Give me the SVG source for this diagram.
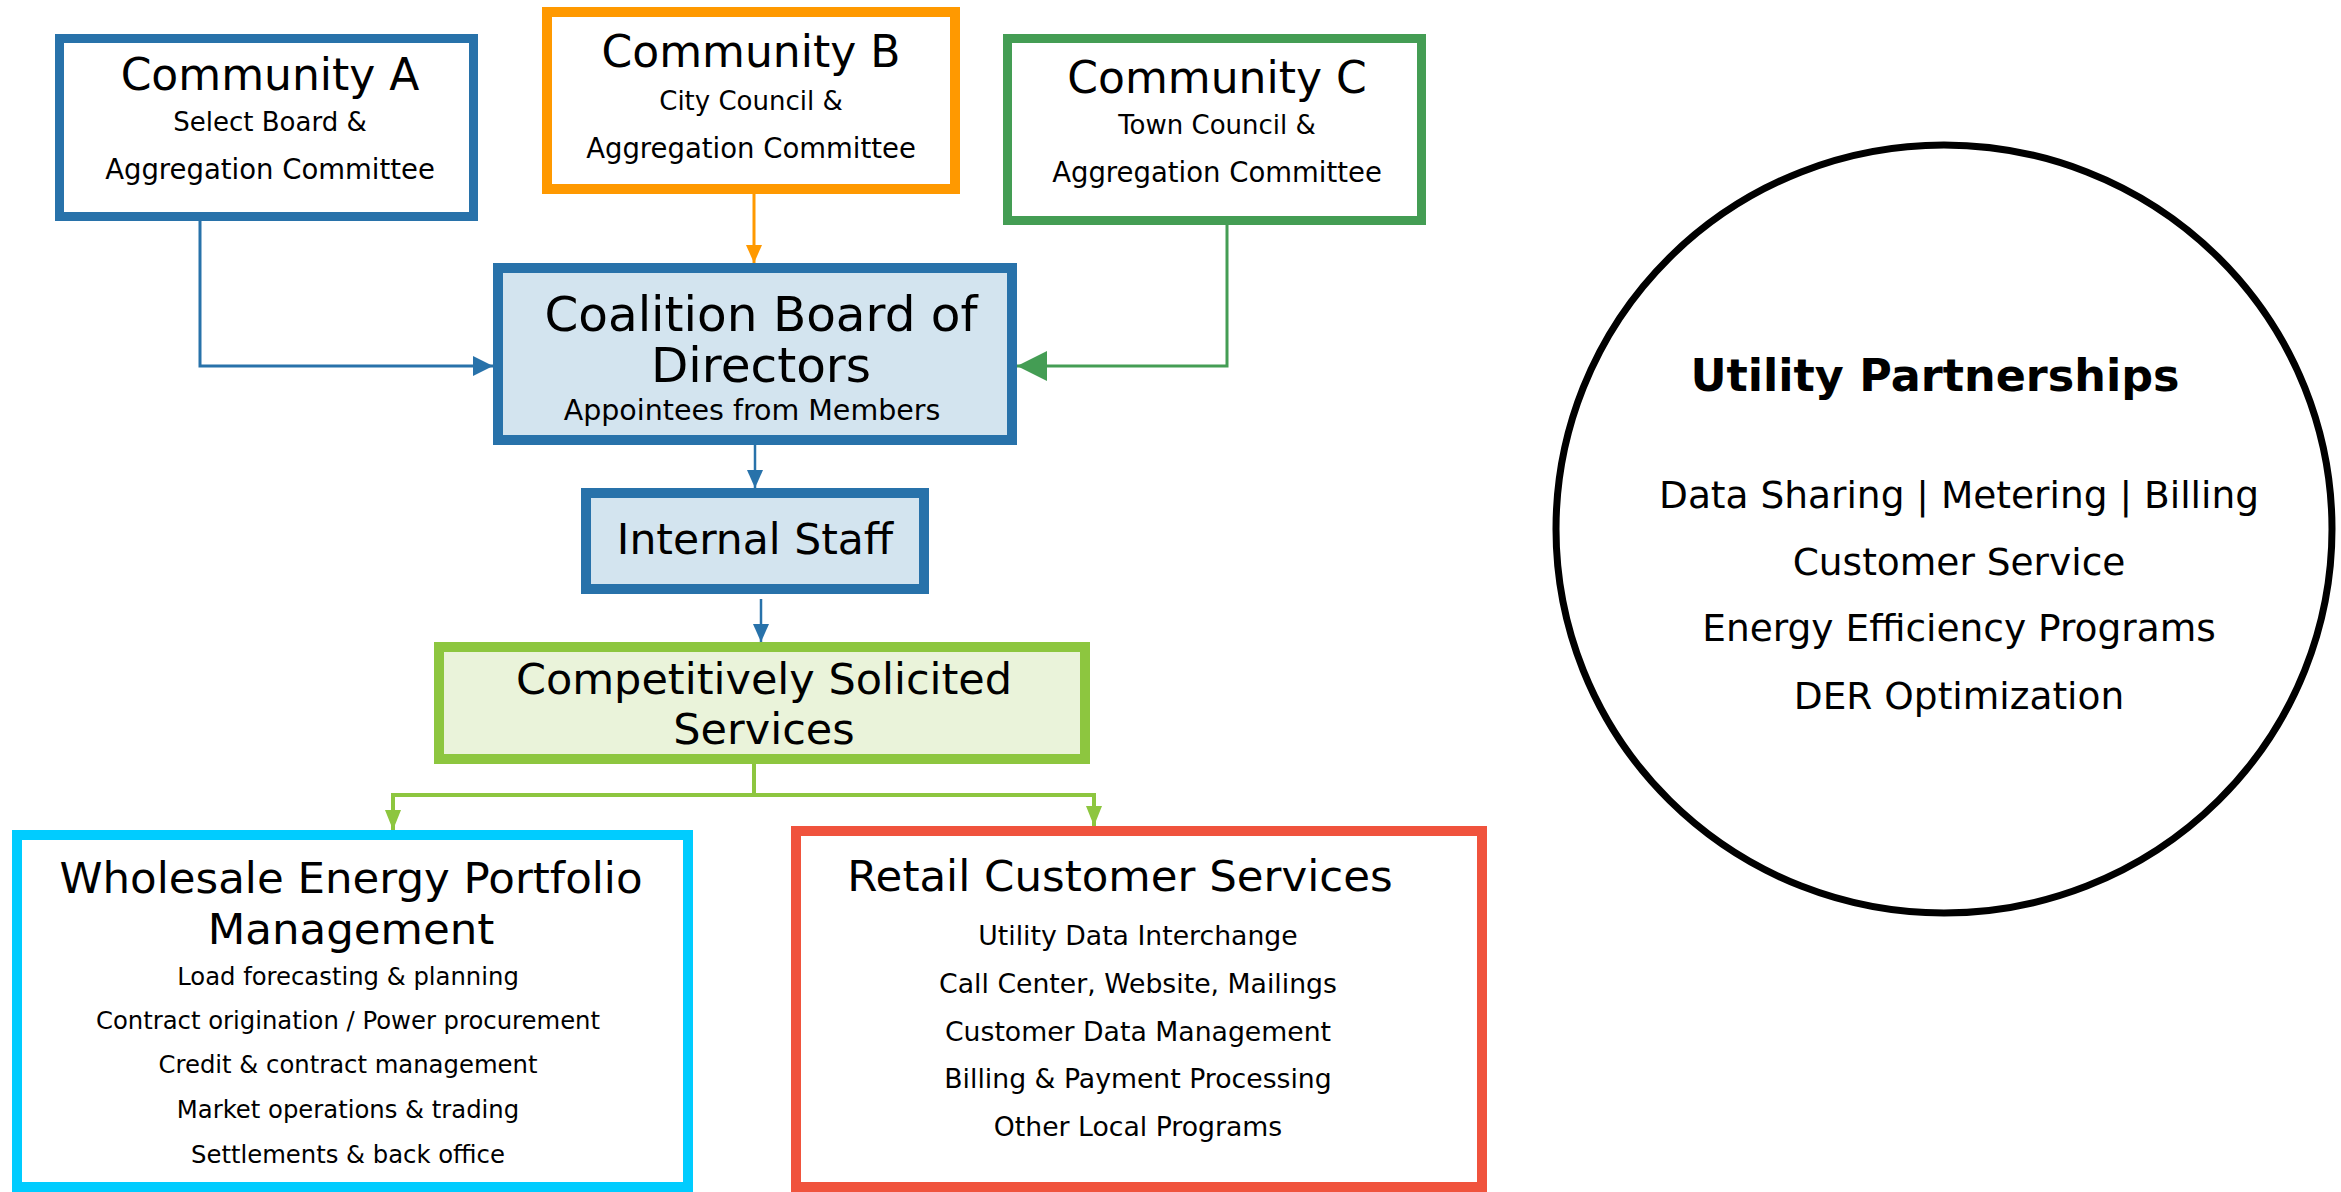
<svg xmlns="http://www.w3.org/2000/svg" width="2341" height="1192" viewBox="0 0 2341 1192">
<defs>
<style>
text{font-family:"DejaVu Sans","Open Sans",sans-serif;fill:#000;text-anchor:middle}
.h{font-size:44px}
.s{font-size:26px}
.ag{font-size:27.5px}
.l{font-size:24.3px}
.r{font-size:26.7px}
.u{font-size:37.5px}
.box{fill:#fff}
</style>
<marker id="aBlue" markerUnits="userSpaceOnUse" markerWidth="20" markerHeight="20" refX="20" refY="10" orient="auto"><path d="M0,0 L20,10 L0,20 Z" fill="#2872AA"/></marker>
<marker id="aBlueS" markerUnits="userSpaceOnUse" markerWidth="18" markerHeight="16" refX="18" refY="8" orient="auto"><path d="M0,0 L18,8 L0,16 Z" fill="#2872AA"/></marker>
<marker id="aOrange" markerUnits="userSpaceOnUse" markerWidth="18" markerHeight="16" refX="18" refY="8" orient="auto"><path d="M0,0 L18,8 L0,16 Z" fill="#FF9900"/></marker>
<marker id="aGreen" markerUnits="userSpaceOnUse" markerWidth="30" markerHeight="30" refX="30" refY="15" orient="auto"><path d="M0,0 L30,15 L0,30 Z" fill="#449D54"/></marker>
<marker id="aLime" markerUnits="userSpaceOnUse" markerWidth="20" markerHeight="16" refX="20" refY="8" orient="auto"><path d="M0,0 L20,8 L0,16 Z" fill="#8DC63F"/></marker>
</defs>
<rect width="2341" height="1192" fill="#fff"/>

<g id="connectors" fill="none">
<path d="M200,221 V366 H493" stroke="#2872AA" stroke-width="3" marker-end="url(#aBlue)"/>
<path d="M754,194 V263" stroke="#FF9900" stroke-width="3" marker-end="url(#aOrange)"/>
<path d="M1227,225 V366 H1017" stroke="#449D54" stroke-width="3" marker-end="url(#aGreen)"/>
<path d="M755,445 V488" stroke="#2872AA" stroke-width="2.5" marker-end="url(#aBlueS)"/>
<path d="M761,599 V642" stroke="#2872AA" stroke-width="2.5" marker-end="url(#aBlueS)"/>
<path d="M754,764 V795 H393 V830" stroke="#8DC63F" stroke-width="4" marker-end="url(#aLime)"/>
<path d="M754,795 H1094 V826" stroke="#8DC63F" stroke-width="4" marker-end="url(#aLime)"/>
</g>

<g id="communityA">
<rect class="box" x="59.5" y="38.5" width="414" height="178" stroke="#2872AA" stroke-width="9"/>
<text class="h" x="270" y="90">Community A</text>
<text class="s" x="270" y="131">Select Board &amp;</text>
<text class="ag" x="270" y="179">Aggregation Committee</text>
</g>

<g id="communityB">
<rect class="box" x="547" y="12" width="408" height="177" stroke="#FF9900" stroke-width="10"/>
<text class="h" x="751" y="67">Community B</text>
<text class="s" x="751" y="110">City Council &amp;</text>
<text class="ag" x="751" y="158">Aggregation Committee</text>
</g>

<g id="communityC">
<rect class="box" x="1007.5" y="38.5" width="414" height="182" stroke="#449D54" stroke-width="9"/>
<text class="h" x="1217" y="93">Community C</text>
<text class="s" x="1217" y="134">Town Council &amp;</text>
<text class="ag" x="1217" y="182">Aggregation Committee</text>
</g>

<g id="coalition">
<rect x="498" y="268" width="514" height="172" fill="#D3E4EF" stroke="#2872AA" stroke-width="10"/>
<text x="761" y="331" style="font-size:48.5px">Coalition Board of</text>
<text x="761" y="382" style="font-size:48.5px">Directors</text>
<text x="752" y="420" style="font-size:28.5px">Appointees from Members</text>
</g>

<g id="internalStaff">
<rect x="586" y="493" width="338" height="96" fill="#D3E4EF" stroke="#2872AA" stroke-width="10"/>
<text x="755" y="554" style="font-size:42.5px">Internal Staff</text>
</g>

<g id="competitive">
<rect x="439" y="647" width="646" height="112" fill="#EAF3DA" stroke="#8DC63F" stroke-width="10"/>
<text class="h" x="764" y="694" style="font-size:43px">Competitively Solicited</text>
<text class="h" x="764" y="744" style="font-size:43px">Services</text>
</g>

<g id="wholesale">
<rect class="box" x="17" y="835" width="671" height="352" stroke="#00CCFF" stroke-width="10"/>
<text class="h" x="351" y="893" style="font-size:43.5px">Wholesale Energy Portfolio</text>
<text class="h" x="351" y="944" style="font-size:43.5px">Management</text>
<text class="l" x="348" y="985">Load forecasting &amp; planning</text>
<text class="l" x="348" y="1029">Contract origination / Power procurement</text>
<text class="l" x="348" y="1073">Credit &amp; contract management</text>
<text class="l" x="348" y="1118">Market operations &amp; trading</text>
<text class="l" x="348" y="1163">Settlements &amp; back office</text>
</g>

<g id="retail">
<rect class="box" x="796" y="831" width="686" height="356" stroke="#F0533D" stroke-width="10"/>
<text class="h" x="1120" y="891" style="font-size:43.5px">Retail Customer Services</text>
<text class="r" x="1138" y="945">Utility Data Interchange</text>
<text class="r" x="1138" y="993">Call Center, Website, Mailings</text>
<text class="r" x="1138" y="1041">Customer Data Management</text>
<text class="r" x="1138" y="1088">Billing &amp; Payment Processing</text>
<text class="r" x="1138" y="1136">Other Local Programs</text>
</g>

<g id="utility">
<ellipse cx="1944" cy="529" rx="388" ry="384" fill="#fff" stroke="#000" stroke-width="7"/>
<text x="1935" y="391" style="font-size:44.5px;font-weight:bold">Utility Partnerships</text>
<text class="u" x="1959" y="508">Data Sharing | Metering | Billing</text>
<text class="u" x="1959" y="575">Customer Service</text>
<text class="u" x="1959" y="641">Energy Efficiency Programs</text>
<text class="u" x="1959" y="709">DER Optimization</text>
</g>
</svg>
